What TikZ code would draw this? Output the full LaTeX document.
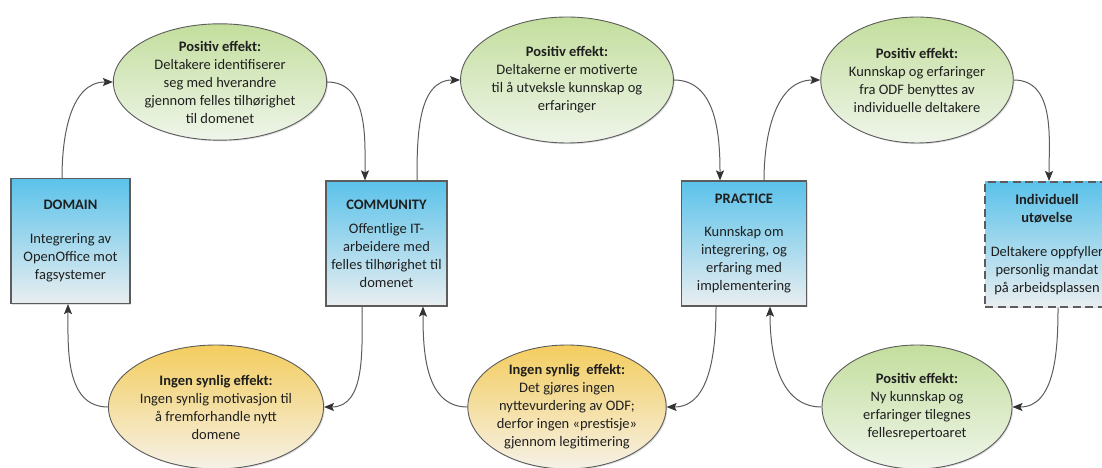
\documentclass[tikz,border=0pt]{standalone}
\usepackage{fontspec}
\setmainfont{Carlito}
\usetikzlibrary{shapes.geometric,arrows.meta,shadows}

\definecolor{edge}{HTML}{5C5C5C}
\definecolor{tipcol}{HTML}{333333}
\definecolor{txt}{HTML}{1F1F1F}
\definecolor{boxtop}{HTML}{5BC2EA}
\definecolor{boxbot}{HTML}{E9EEF0}
\definecolor{greentop}{HTML}{C3DE9D}
\definecolor{greenbot}{HTML}{EFF5EA}
\definecolor{yeltop}{HTML}{F4CD5E}
\definecolor{yelbot}{HTML}{F5F1E7}

\tikzset{
  basefont/.style={font=\fontsize{14.5}{18}\selectfont, text=txt},
  softshadow/.style={drop shadow={opacity=0.25, shadow xshift=1.2pt, shadow yshift=-1.2pt}},
  stagebox/.style={basefont, draw=edge, line width=1.2pt, top color=boxtop, bottom color=boxbot,
    align=center, inner sep=0pt, minimum height=125pt, softshadow},
  dashbox/.style={stagebox, line width=2pt, dash pattern=on 8pt off 4.5pt},
  note/.style={basefont, ellipse, draw=edge, line width=0.9pt, inner sep=0pt, align=center, softshadow},
  posnote/.style={note, top color=greentop, bottom color=greenbot},
  negnote/.style={note, top color=yeltop, bottom color=yelbot},
  flow/.style={draw=edge, line width=1pt, -{Stealth[length=10pt,width=8pt,inset=2pt,color=tipcol]}}
}

\begin{document}
\begin{tikzpicture}[x=1pt,y=1pt]
\useasboundingbox (0,0) rectangle (1102,468);
\clip (0,0) rectangle (1102,468);

% practice stages
\node[stagebox, minimum width=119pt] (domain) at (70.5,227)
  {\textbf{DOMAIN}\\[16pt]Integrering av\\OpenOffice mot\\fagsystemer};
\node[stagebox, minimum width=121pt] (community) at (386.5,224.5)
  {\textbf{COMMUNITY}\\[6pt]Offentlige IT-\\arbeidere med\\felles tilhørighet til\\domenet};
\node[stagebox, minimum width=125pt] (practice) at (744,224.5)
  {\textbf{PRACTICE}\\[15pt]Kunnskap om\\integrering, og\\erfaring med\\implementering};
\node[dashbox, minimum width=124pt] (indiv) at (1047,223.5)
  {\textbf{Individuell}\\\textbf{utøvelse}\\[16pt]Deltakere oppfyller\\personlig mandat\\på arbeidsplassen};

% effects, upper row
\node[posnote, minimum width=204pt, minimum height=110pt] (e1) at (220,386)
  {\textbf{Positiv effekt:}\\Deltakere identifiserer\\seg med hverandre\\gjennom felles tilhørighet\\til domenet};
\node[posnote, minimum width=192pt, minimum height=126pt] (e2) at (567,388)
  {\textbf{Positiv effekt:}\\Deltakerne er motiverte\\til å utveksle kunnskap og\\erfaringer};
\node[posnote, minimum width=190pt, minimum height=126pt] (e3) at (917,388)
  {\textbf{Positiv effekt:}\\Kunnskap og erfaringer\\fra ODF benyttes av\\individuelle deltakere};

% effects, lower row
\node[negnote, minimum width=198pt, minimum height=124pt] (b1) at (216,61)
  {\textbf{Ingen synlig effekt:}\\Ingen synlig motivasjon til\\å fremforhandle nytt\\domene};
\node[negnote, minimum width=192pt, minimum height=124pt] (b2) at (567,61)
  {\textbf{Ingen synlig\ \ effekt:}\\Det gjøres ingen\\nyttevurdering av ODF;\\derfor ingen «prestisje»\\gjennom legitimering};
\node[posnote, minimum width=190pt, minimum height=124pt] (b3) at (917,61)
  {\textbf{Positiv effekt:}\\Ny kunnskap og\\erfaringer tilegnes\\fellesrepertoaret};

% cycle connectors
\draw[flow] ([xshift=-8.5pt]domain.north) to[out=90,in=180] (e1.west);
\draw[flow] (e1.east) to[out=0,in=90] ([xshift=-21.5pt]community.north);
\draw[flow] ([xshift=30.5pt]community.north) to[out=90,in=180] (e2.west);
\draw[flow] (e2.east) to[out=0,in=90] ([xshift=-24pt]practice.north);
\draw[flow] ([xshift=20pt]practice.north) to[out=90,in=180] (e3.west);
\draw[flow] (e3.east) to[out=0,in=90] ([xshift=2pt]indiv.north);
\draw[flow] ([xshift=11pt]indiv.south) to[out=-90,in=0] (b3.east);
\draw[flow] (b3.west) to[out=180,in=-90] ([xshift=26pt]practice.south);
\draw[flow] ([xshift=-28pt]practice.south) to[out=-90,in=0] (b2.east);
\draw[flow] (b2.west) to[out=180,in=-90] ([xshift=36.5pt]community.south);
\draw[flow] ([xshift=-24.5pt]community.south) to[out=-90,in=0] (b1.east);
\draw[flow] (b1.west) to[out=180,in=-90] ([xshift=-2.5pt]domain.south);
\end{tikzpicture}
\end{document}
